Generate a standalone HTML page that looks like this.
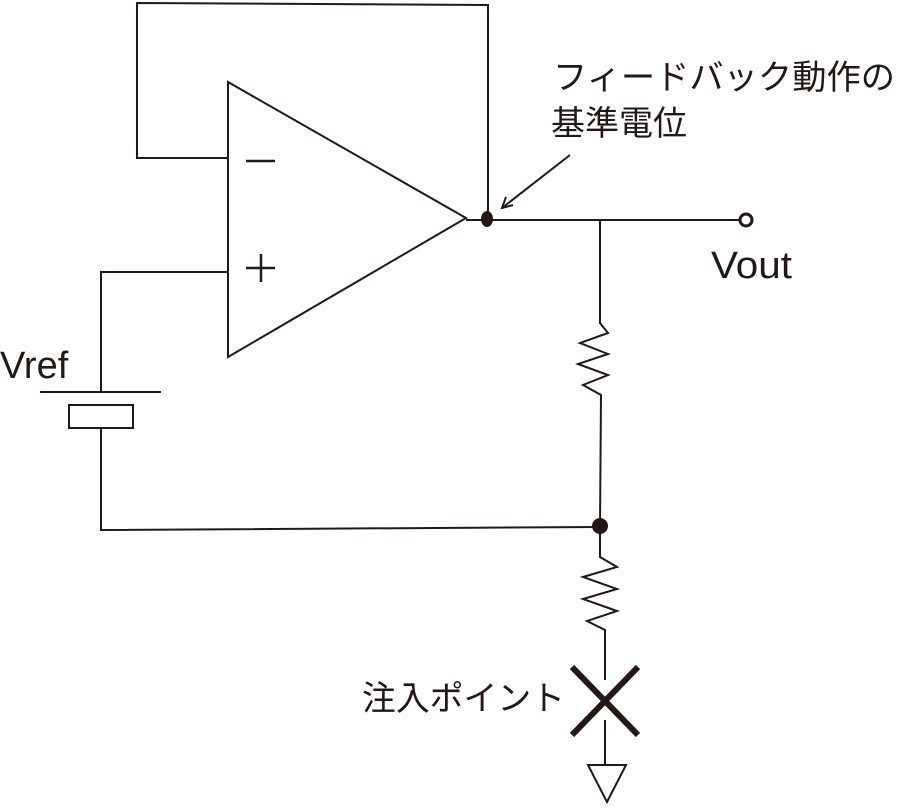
<!DOCTYPE html>
<html><head><meta charset="utf-8"><style>
html,body{margin:0;padding:0;background:#fff;}
svg{display:block}
text{font-family:"Liberation Sans","Noto Sans CJK JP",sans-serif;fill:#231815;}
</style></head><body>
<svg width="900" height="810" viewBox="0 0 900 810" xmlns="http://www.w3.org/2000/svg">
<g fill="none" stroke="#231815" stroke-width="2">
<polyline points="228,158 137,158 137,3 488,5 488,220"/>
<polygon points="228,82 466,218 228,357"/>
<polyline points="228,272 101,272 101,392"/>
<line x1="40" y1="392" x2="161" y2="392"/>
<rect x="69" y="405" width="64" height="23"/>
<polyline points="101,428 101,530 600,527"/>
<line x1="466" y1="220" x2="740" y2="220"/>
<polyline points="600,220 600,323 608,333 580,343 608,354 578,364 608,375 583,385 601,395 600,527 600,557 617,567 583,577 617,589 583,599 617,611 587,621 605,630 605,680"/>
<line x1="605" y1="720" x2="605" y2="765"/>
<polygon points="588,765 626,765 607,802"/>
<line x1="570" y1="155" x2="502" y2="208"/>
<polyline points="506,197 502,208 513,205"/>
</g>
<circle cx="746" cy="220" r="6" fill="#fff" stroke="#231815" stroke-width="3"/>
<ellipse cx="487" cy="219" rx="6" ry="8" fill="#231815"/>
<circle cx="600" cy="526" r="8" fill="#231815"/>
<g stroke="#231815" stroke-width="6">
<line x1="572" y1="667" x2="638" y2="735"/>
<line x1="638" y1="667" x2="572" y2="735"/>
</g>
<line x1="246" y1="161" x2="275" y2="161" stroke="#231815" stroke-width="2.5"/>
<line x1="246" y1="268" x2="275" y2="268" stroke="#231815" stroke-width="2.5"/>
<line x1="261" y1="254" x2="261" y2="282" stroke="#231815" stroke-width="2.5"/>
<text x="553" y="89" font-size="34" textLength="342" lengthAdjust="spacingAndGlyphs">フィードバック動作の</text>
<text x="551" y="135" font-size="34">基準電位</text>
<text x="711" y="278" font-size="38" textLength="81" lengthAdjust="spacingAndGlyphs">Vout</text>
<text x="0" y="378" font-size="38">Vref</text>
<text x="362" y="710" font-size="34" textLength="203" lengthAdjust="spacingAndGlyphs">注入ポイント</text>
</svg>
</body></html>
